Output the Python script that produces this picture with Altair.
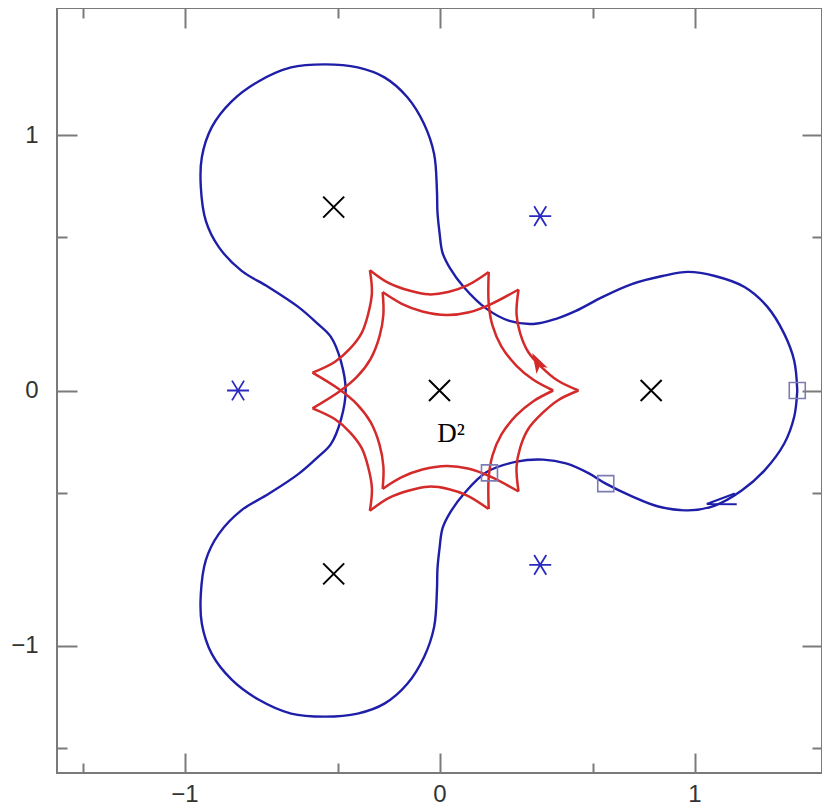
import altair as alt
import pandas as pd

# ---------------- data ----------------
major_ticks = [-1, 0, 1]
minor_ticks = [-1.4, -1.2, -0.8, -0.6, -0.4, -0.2, 0.2, 0.4, 0.6, 0.8, 1.2, 1.4]

# blue closed curve (clockwise, starting at the right-hand square)
blue_x = [1.403, 1.391, 1.352, 1.274, 1.185, 1.080, 0.975, 0.858, 0.757, 0.652, 0.586, 0.496, 0.407, 0.302,
          0.185, 0.095, 0.041, 0.012, 0.000, -0.008, -0.010, -0.021, -0.060, -0.126, -0.216, -0.321, -0.449,
          -0.582, -0.710, -0.815, -0.893, -0.932, -0.936, -0.916, -0.866, -0.776, -0.671, -0.554, -0.477,
          -0.426, -0.387, -0.368, -0.387, -0.426, -0.477, -0.554, -0.671, -0.776, -0.866, -0.916, -0.936,
          -0.932, -0.893, -0.815, -0.710, -0.582, -0.449, -0.321, -0.216, -0.126, -0.060, -0.021, -0.010,
          -0.008, 0.000, 0.012, 0.041, 0.095, 0.185, 0.274, 0.368, 0.457, 0.535, 0.640, 0.757, 0.874, 0.975,
          1.080, 1.196, 1.286, 1.352, 1.391, 1.403]
blue_y = [0.000, -0.103, -0.208, -0.314, -0.392, -0.451, -0.470, -0.455, -0.416, -0.365, -0.325, -0.286, -0.271,
          -0.279, -0.320, -0.406, -0.480, -0.540, -0.620, -0.700, -0.782, -0.927, -1.044, -1.150, -1.228, -1.267,
          -1.279, -1.267, -1.212, -1.134, -1.033, -0.915, -0.798, -0.664, -0.563, -0.469, -0.406, -0.328, -0.261,
          -0.210, -0.116, 0.000, 0.116, 0.210, 0.261, 0.328, 0.406, 0.469, 0.563, 0.664, 0.798, 0.915, 1.033,
          1.134, 1.212, 1.267, 1.279, 1.267, 1.228, 1.150, 1.044, 0.927, 0.782, 0.700, 0.620, 0.540, 0.480,
          0.406, 0.320, 0.273, 0.261, 0.281, 0.312, 0.367, 0.418, 0.449, 0.465, 0.449, 0.406, 0.328, 0.222,
          0.117, 0.000]

# red caustic arcs (cusp to cusp)
arc01_x = [0.193, 0.109, 0.034, -0.043, -0.119, -0.200, -0.273]
arc01_y = [0.465, 0.412, 0.386, 0.377, 0.392, 0.422, 0.472]
arc02_x = [0.310, 0.198, 0.116, 0.028, -0.067, -0.148, -0.223]
arc02_y = [0.396, 0.337, 0.307, 0.296, 0.310, 0.340, 0.386]
arc03_x = [0.193, 0.193, 0.208, 0.243, 0.302, 0.368, 0.446]
arc03_y = [0.465, 0.340, 0.254, 0.172, 0.097, 0.042, 0.000]
arc04_x = [0.310, 0.302, 0.317, 0.348, 0.399, 0.465, 0.545]
arc04_y = [0.396, 0.300, 0.222, 0.151, 0.093, 0.038, 0.000]
arc05_x = [0.193, 0.193, 0.208, 0.243, 0.302, 0.368, 0.446]
arc05_y = [-0.465, -0.340, -0.254, -0.172, -0.097, -0.042, 0.000]
arc06_x = [0.310, 0.302, 0.317, 0.348, 0.399, 0.465, 0.545]
arc06_y = [-0.396, -0.300, -0.222, -0.151, -0.093, -0.038, 0.000]
arc07_x = [0.193, 0.109, 0.034, -0.043, -0.119, -0.200, -0.273]
arc07_y = [-0.465, -0.412, -0.386, -0.377, -0.392, -0.422, -0.472]
arc08_x = [0.310, 0.198, 0.116, 0.028, -0.067, -0.148, -0.223]
arc08_y = [-0.396, -0.337, -0.307, -0.296, -0.310, -0.340, -0.386]
arc09_x = [-0.498, -0.411, -0.351, -0.305, -0.280, -0.265, -0.273]
arc09_y = [-0.070, -0.112, -0.164, -0.226, -0.299, -0.384, -0.472]
arc10_x = [-0.498, -0.391, -0.324, -0.270, -0.235, -0.220, -0.223]
arc10_y = [-0.070, -0.003, 0.053, 0.124, 0.213, 0.298, 0.386]
arc11_x = [-0.498, -0.411, -0.351, -0.305, -0.280, -0.265, -0.273]
arc11_y = [0.070, 0.112, 0.164, 0.226, 0.299, 0.384, 0.472]
arc12_x = [-0.498, -0.391, -0.324, -0.270, -0.235, -0.220, -0.223]
arc12_y = [0.070, 0.003, -0.053, -0.124, -0.213, -0.298, -0.386]

lens_x = [0.0, 0.83, -0.415, -0.415]
lens_y = [0.0, 0.0, 0.719, -0.719]
star_x = [-0.79, 0.395, 0.395]
star_y = [0.0, 0.684, -0.684]
square_x = [1.403, 0.652, 0.196]
square_y = [0.0, -0.365, -0.323]
label_x = [0.045]
label_y = [-0.17]
label_text = ["D\u00b2"]
blue_arrow_x = [1.105]
blue_arrow_y = [-0.435]
red_arrow_x = [0.383]
red_arrow_y = [0.112]

# ---------------- tables ----------------
blue_df = pd.DataFrame({"x": blue_x, "y": blue_y, "i": range(len(blue_x))})
arcs = [(arc01_x, arc01_y), (arc02_x, arc02_y), (arc03_x, arc03_y), (arc04_x, arc04_y),
        (arc05_x, arc05_y), (arc06_x, arc06_y), (arc07_x, arc07_y), (arc08_x, arc08_y),
        (arc09_x, arc09_y), (arc10_x, arc10_y), (arc11_x, arc11_y), (arc12_x, arc12_y)]
rows = []
for k, (ax_, ay_) in enumerate(arcs):
    for i, (a, b) in enumerate(zip(ax_, ay_)):
        rows.append({"arc": k, "i": i, "x": a, "y": b})
red_df = pd.DataFrame(rows)
lens_df = pd.DataFrame({"x": lens_x, "y": lens_y})
star_df = pd.DataFrame({"x": star_x, "y": star_y})
square_df = pd.DataFrame({"x": square_x, "y": square_y})
label_df = pd.DataFrame({"x": label_x, "y": label_y, "t": label_text})
barrow_df = pd.DataFrame({"x": blue_arrow_x, "y": blue_arrow_y})
rarrow_df = pd.DataFrame({"x": red_arrow_x, "y": red_arrow_y})

# ---------------- axes / scales ----------------
xs = alt.Scale(domain=[-1.5, 1.5], nice=False, zero=False)
ys = alt.Scale(domain=[-1.5, 1.5], nice=False, zero=False)
TICK = "#7a7a7a"


def axis(orient, values, size, labels, pad):
    return alt.Axis(orient=orient, values=values, tickSize=size, offset=-size, domain=False, grid=False,
                    labels=labels, title=None, tickColor=TICK, tickWidth=2, format="d",
                    labelFont="Liberation Sans", labelFontSize=24, labelColor="#333333",
                    labelPadding=pad)


def enc(ch, axis_obj):
    if ch == "x":
        return alt.X("x:Q", scale=xs, axis=axis_obj)
    return alt.Y("y:Q", scale=ys, axis=axis_obj)


blue = alt.Chart(blue_df).mark_line(color="#1e1ea8", strokeWidth=2.4, interpolate="catmull-rom").encode(
    x=enc("x", axis("bottom", major_ticks, 20, True, 9)),
    y=enc("y", axis("left", major_ticks, 20, True, 19)),
    order="i:Q")

red = alt.Chart(red_df).mark_line(color="#d42a2a", strokeWidth=2.5, interpolate="catmull-rom").encode(
    x=enc("x", axis("bottom", minor_ticks, 10, False, 4)),
    y=enc("y", axis("left", minor_ticks, 10, False, 4)),
    detail="arc:N", order="i:Q")

lens = alt.Chart(lens_df).mark_point(shape="M-1,-1L1,1M-1,1L1,-1", size=441, filled=False,
                                     stroke="black", strokeWidth=2, opacity=1).encode(
    x=enc("x", axis("top", major_ticks, 20, False, 4)),
    y=enc("y", axis("right", major_ticks, 20, False, 4)))

stars = alt.Chart(star_df).mark_point(shape="M-1,0L1,0M-0.55,-0.9L0.55,0.9M-0.55,0.9L0.55,-0.9", size=484,
                                      filled=False, stroke="#2a2ac0", strokeWidth=1.8, opacity=1).encode(
    x=enc("x", axis("top", minor_ticks, 10, False, 4)),
    y=enc("y", axis("right", minor_ticks, 10, False, 4)))

squares = alt.Chart(square_df).mark_point(shape="square", size=256, filled=False, stroke="#7c7cb4",
                                          strokeWidth=1.6, opacity=1).encode(
    x=enc("x", None), y=enc("y", None))

barrow = alt.Chart(barrow_df).mark_point(shape="M1,0L-1,-0.37M1,0L-1,0.37", size=870, angle=170, filled=False,
                                         stroke="#1e1ea8", strokeWidth=2.2, opacity=1).encode(
    x=enc("x", None), y=enc("y", None))

rarrow = alt.Chart(rarrow_df).mark_point(shape="M1,0L-1,-0.62L-0.5,0L-1,0.62Z", size=420, angle=241, filled=True,
                                         color="#d42a2a", opacity=1).encode(
    x=enc("x", None), y=enc("y", None))

label = alt.Chart(label_df).mark_text(font="Liberation Serif", fontSize=27, color="black", align="center",
                                      baseline="middle").encode(
    x=enc("x", None), y=enc("y", None), text="t:N")

chart = alt.layer(blue, red, lens, stars, squares, barrow, rarrow, label).resolve_axis(
    x="independent", y="independent"
).properties(
    width=765, height=765,
    autosize=alt.AutoSizeParams(type="none"),
    padding={"left": 49, "top": 0, "right": 0, "bottom": 38},
).configure_view(stroke=TICK, strokeWidth=2)

chart.save("out.html", embed_options={"renderer": "svg", "actions": False})
